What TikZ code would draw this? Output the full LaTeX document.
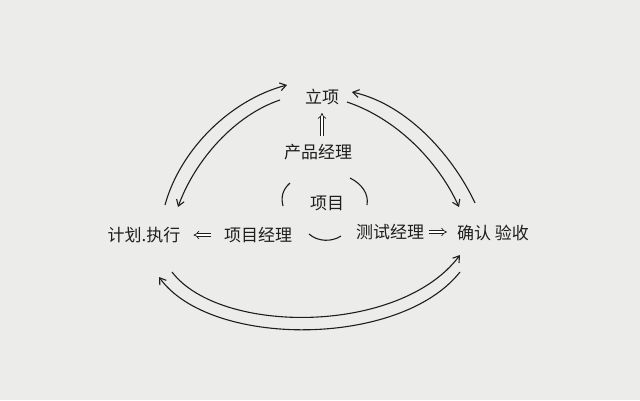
\documentclass[tikz,border=0pt]{standalone}
\usepackage{fontspec}
\setmainfont{Noto Sans CJK SC}
\usetikzlibrary{arrows.meta}
\definecolor{paper}{RGB}{236,236,234}
\definecolor{ink}{RGB}{30,30,30}
\tikzset{
  lbl/.style={font=\fontsize{17}{19}\selectfont, text=ink, inner sep=1pt},
  curvearrow/.style={draw=ink, line width=1.1pt, -{Straight Barb[length=6pt,width=8pt]}},
  implyarrow/.style={draw=ink, double, double distance=2.2pt, line width=0.7pt, -{Implies}},
  paren/.style={draw=ink, line width=1.1pt},
}
\begin{document}
\begin{tikzpicture}[x=1pt,y=-1pt]
\fill[paper] (0,0) rectangle (640,400);
\useasboundingbox (0,0) rectangle (640,400);

\node[lbl] (top) at (322,97) {立项};
\node[lbl] (pdm) at (318,152) {产品经理};
\node[lbl] (proj) at (327,203) {项目};
\node[lbl] (plan) at (144,235) {计划.执行};
\node[lbl] (pm) at (258,235) {项目经理};
\node[lbl] (tm) at (390,232) {测试经理};
\node[lbl] (acc) at (493,233) {确认 验收};

% double arrows
\draw[implyarrow, shorten <=7pt, shorten >=7pt] (top.south |- pdm.north) -- (top.south);
\draw[implyarrow, shorten <=12pt, shorten >=12pt] (pm.west) -- (plan.east);
\draw[implyarrow, shorten <=4pt, shorten >=9pt] (tm.east) -- (tm.east -| acc.west);

% parentheses around 项目
\draw[paren] (290,183) .. controls (282,190) and (281,198) .. (283,206);
\draw[paren] (350,178) .. controls (362,184) and (369,194) .. (367,205);
\draw[paren] (309,234) .. controls (318,242) and (332,242) .. (341,236);

% curved connectors
\coordinate (a1) at (165,205); \coordinate (a2) at (287,85);
\coordinate (b1) at (280,100); \coordinate (b2) at (178,207);
\coordinate (c1) at (475,203); \coordinate (c2) at (352,92);
\coordinate (d1) at (347,102); \coordinate (d2) at (459,207);
\coordinate (e1) at (172,272); \coordinate (e2) at (460,255);
\coordinate (f1) at (460,272); \coordinate (f2) at (159,277);

\draw[curvearrow] (a1) .. controls (180,150) and (230,100) .. (a2);
\draw[curvearrow] (b1) .. controls (235,115) and (195,160) .. (b2);
\draw[curvearrow] (c1) .. controls (455,160) and (410,105) .. (c2);
\draw[curvearrow] (d1) .. controls (400,120) and (440,165) .. (d2);
\draw[curvearrow] (e1) .. controls (220,335) and (400,335) .. (e2);
\draw[curvearrow] (f1) .. controls (400,348) and (210,348) .. (f2);
\end{tikzpicture}
\end{document}
